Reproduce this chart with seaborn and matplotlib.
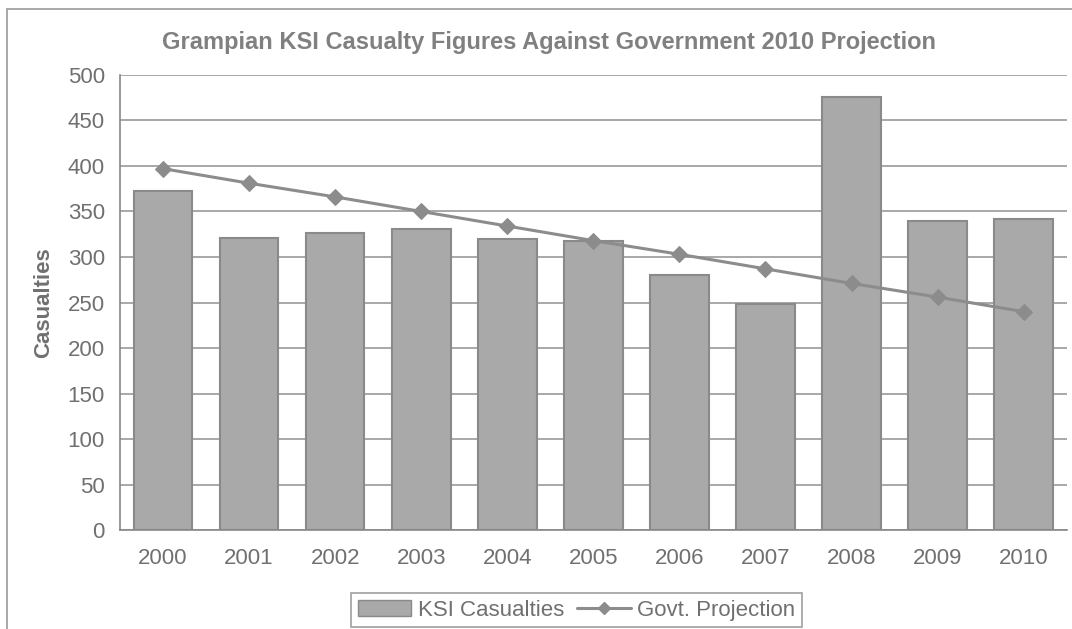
import numpy as np
import pandas as pd
import seaborn as sns
import matplotlib.pyplot as plt
from matplotlib.patches import Patch, Rectangle
from matplotlib.lines import Line2D

# chart values
years = ['2000', '2001', '2002', '2003', '2004', '2005',
         '2006', '2007', '2008', '2009', '2010']
ksi_casualties = [372, 321, 326, 331, 320, 318, 280, 248, 476, 340, 342]
govt_projection = [397, 381, 366, 350, 334, 318, 303, 287, 271, 256, 240]

title = 'Grampian KSI Casualty Figures Against Government 2010 Projection'
y_ticks = list(range(0, 501, 50))

bar_grey = '#a9a9a9'
edge_grey = '#8a8a8a'
line_grey = '#8c8c8c'
text_grey = '#707070'

sns.set_style('white')
plt.rcParams['font.family'] = ['Liberation Sans', 'DejaVu Sans']

df = pd.DataFrame({'year': years, 'ksi': ksi_casualties, 'proj': govt_projection})
df['pos'] = np.arange(len(df))

fig = plt.figure(figsize=(10.72, 6.29), dpi=100)
ax = fig.add_axes([0.112, 0.157, 0.883, 0.724])

sns.barplot(data=df, x='year', y='ksi', color=bar_grey, saturation=1,
            width=0.68, edgecolor=edge_grey, linewidth=1.5, ax=ax, zorder=2)
sns.lineplot(data=df, x='pos', y='proj', color=line_grey, linewidth=2.2,
             marker='D', markersize=8, markeredgecolor=line_grey, ax=ax, zorder=3)

ax.set_xlim(-0.5, len(years) - 0.5)
ax.set_ylim(0, 500)
ax.set_yticks(y_ticks)
ax.yaxis.grid(True, color='#9a9a9a', linewidth=1.2, zorder=0)
ax.set_axisbelow(True)

for side in ['top', 'right']:
    ax.spines[side].set_visible(False)
for side in ['left', 'bottom']:
    ax.spines[side].set_color('#888888')
    ax.spines[side].set_linewidth(1.2)

ax.set_xticks(np.arange(len(years)))
ax.set_xticklabels(years)
ax.set_xticks(np.arange(len(years)) + 0.5, minor=True)
ax.tick_params(axis='x', which='major', length=0, pad=13, labelsize=16, labelcolor=text_grey)
ax.tick_params(axis='x', which='minor', length=12, direction='inout', color='#888888', width=1.2)
ax.tick_params(axis='y', length=7, direction='out', color='#888888', width=1.2,
               labelsize=16, labelcolor=text_grey, pad=4)

ax.set_xlabel('')
ax.set_ylabel('Casualties', fontsize=16, fontweight='bold', color=text_grey, labelpad=10)
fig.text(0.512, 0.932, title, ha='center', va='center', fontsize=17,
         fontweight='bold', color='#808080')

# outer chart frame
fig.patches.append(Rectangle((0.0065, -0.05), 1.2, 1.036, transform=fig.transFigure,
                             fill=False, edgecolor='#999999', linewidth=1.2))

handles = [Patch(facecolor=bar_grey, edgecolor=edge_grey, label='KSI Casualties'),
           Line2D([0], [0], color=line_grey, linewidth=2.2, marker='D', markersize=6,
                  label='Govt. Projection')]
leg = fig.legend(handles=handles, loc='upper center', bbox_to_anchor=(0.538, 0.062),
                 ncol=2, frameon=True, fontsize=16, handlelength=2.4, handletextpad=0.3,
                 columnspacing=0.6, borderpad=0.3, fancybox=False, labelcolor=text_grey)
leg.get_frame().set_edgecolor('#888888')
leg.get_frame().set_linewidth(1.2)
leg.set_bbox_to_anchor((0.538, 0.062 + 0.013), transform=fig.transFigure)

fig.savefig('out.png', dpi=100)
